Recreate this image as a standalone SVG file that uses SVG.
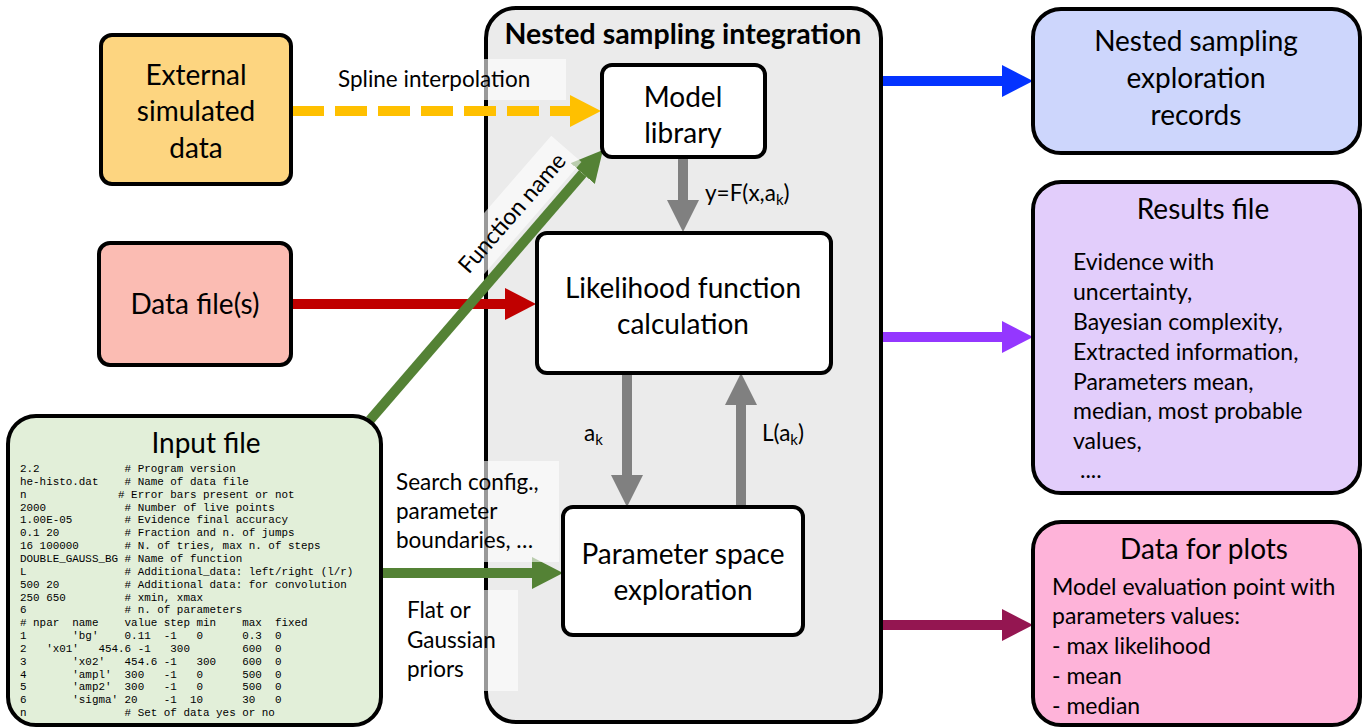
<svg xmlns="http://www.w3.org/2000/svg" width="1369" height="727" viewBox="0 0 1369 727">
<style>
.box{stroke:#000;stroke-width:4}
.t{font-family:Lato,"Liberation Sans",sans-serif;fill:#000}
.big{font-size:28px;text-anchor:middle}
.lbl{font-size:22.5px}
.body{font-size:23px}
.mono{font-family:"Liberation Mono","DejaVu Sans Mono",monospace;font-size:10.9px;fill:#000;white-space:pre}
.lblbg{fill:#fff;fill-opacity:0.6}
.sh{fill:none;stroke-width:10}
</style>
<defs>
<marker id="hY" markerUnits="userSpaceOnUse" markerWidth="32" markerHeight="32" viewBox="0 0 32 32" refX="0" refY="16" orient="auto"><path d="M0,0 L31,16 L0,32 z" fill="#ffc000"/></marker>
<marker id="hR" markerUnits="userSpaceOnUse" markerWidth="32" markerHeight="32" viewBox="0 0 32 32" refX="0" refY="16" orient="auto"><path d="M0,0 L31,16 L0,32 z" fill="#c00000"/></marker>
<marker id="hG" markerUnits="userSpaceOnUse" markerWidth="32" markerHeight="32" viewBox="0 0 32 32" refX="0" refY="16" orient="auto"><path d="M0,0 L31,16 L0,32 z" fill="#548235"/></marker>
<marker id="hK" markerUnits="userSpaceOnUse" markerWidth="32" markerHeight="32" viewBox="0 0 32 32" refX="0" refY="16" orient="auto"><path d="M0,0 L32,16 L0,32 z" fill="#808080"/></marker>
<marker id="hB" markerUnits="userSpaceOnUse" markerWidth="32" markerHeight="32" viewBox="0 0 32 32" refX="0" refY="16" orient="auto"><path d="M0,0 L31,16 L0,32 z" fill="#0433ff"/></marker>
<marker id="hP" markerUnits="userSpaceOnUse" markerWidth="32" markerHeight="32" viewBox="0 0 32 32" refX="0" refY="16" orient="auto"><path d="M0,0 L31,16 L0,32 z" fill="#9437ff"/></marker>
<marker id="hM" markerUnits="userSpaceOnUse" markerWidth="32" markerHeight="32" viewBox="0 0 32 32" refX="0" refY="16" orient="auto"><path d="M0,0 L31,16 L0,32 z" fill="#941651"/></marker>
</defs>
<rect width="1369" height="727" fill="#fff"/>

<g id="nested-sampling-integration">
<rect class="box" x="486" y="8" width="395" height="714" rx="30" fill="#ebebeb"/>
<text class="t" x="683" y="44" font-size="28.5" font-weight="bold" text-anchor="middle">Nested sampling integration</text>
</g>

<g id="connectors">
<line class="sh" x1="292" y1="111" x2="570" y2="111" stroke="#ffc000" stroke-dasharray="32 11" marker-end="url(#hY)"/>
<line class="sh" x1="291" y1="304" x2="505" y2="304" stroke="#c00000" marker-end="url(#hR)"/>
<line class="sh" x1="370" y1="420" x2="582.7" y2="173.5" stroke="#548235" marker-end="url(#hG)"/>
<line class="sh" x1="381" y1="573" x2="532" y2="573" stroke="#548235" marker-end="url(#hG)"/>
<line class="sh" x1="683" y1="157" x2="683" y2="200" stroke="#808080" marker-end="url(#hK)"/>
<line class="sh" x1="627" y1="373" x2="627" y2="475" stroke="#808080" marker-end="url(#hK)"/>
<line class="sh" x1="741" y1="507" x2="741" y2="405" stroke="#808080" marker-end="url(#hK)"/>
<line class="sh" x1="883" y1="81" x2="1002" y2="81" stroke="#0433ff" marker-end="url(#hB)"/>
<line class="sh" x1="883" y1="337" x2="1002" y2="337" stroke="#9437ff" marker-end="url(#hP)"/>
<line class="sh" x1="883" y1="625" x2="1002" y2="625" stroke="#941651" marker-end="url(#hM)"/>
</g>

<g id="connector-labels">
<rect class="lblbg" x="326" y="59" width="240" height="41"/>
<text class="t lbl" x="338" y="87">Spline interpolation</text>
<g transform="translate(512,213) rotate(-49)">
<rect class="lblbg" x="-84" y="-21" width="168" height="40"/>
<text class="t" x="0" y="8" font-size="23" text-anchor="middle">Function name</text>
</g>
<text class="t lbl" x="705" y="201">y=F(x,a<tspan font-size="15" dy="4">k</tspan><tspan dy="-4">)</tspan></text>
<text class="t lbl" x="584" y="441">a<tspan font-size="15" dy="4">k</tspan></text>
<text class="t lbl" x="762" y="441">L(a<tspan font-size="15" dy="4">k</tspan><tspan dy="-4">)</tspan></text>
<rect class="lblbg" x="390" y="461" width="169" height="101"/>
<text class="t lbl" x="396" y="490">Search config.,</text>
<text class="t lbl" x="396" y="519">parameter</text>
<text class="t lbl" x="396" y="548">boundaries, …</text>
<rect class="lblbg" x="400" y="590" width="118" height="101"/>
<text class="t lbl" x="407" y="618">Flat or</text>
<text class="t lbl" x="407" y="648">Gaussian</text>
<text class="t lbl" x="407" y="677">priors</text>
</g>

<g id="external-simulated-data">
<rect class="box" x="101" y="35" width="190" height="149" rx="11" fill="#fdd580"/>
<text class="t big" x="196" y="85">External</text>
<text class="t big" x="196" y="121">simulated</text>
<text class="t big" x="196" y="158">data</text>
</g>

<g id="data-files">
<rect class="box" x="99" y="243" width="192" height="122" rx="11" fill="#fbbcb3"/>
<text class="t big" x="195" y="314">Data file(s)</text>
</g>

<g id="input-file">
<rect class="box" x="8" y="416" width="373" height="309" rx="28" fill="#e2efd9"/>
<text class="t big" x="206" y="453">Input file</text>
<text class="mono" x="20" y="472">2.2             # Program version</text>
<text class="mono" x="20" y="484.85">he-histo.dat    # Name of data file</text>
<text class="mono" x="20" y="497.7">n              # Error bars present or not</text>
<text class="mono" x="20" y="510.55">2000            # Number of live points</text>
<text class="mono" x="20" y="523.4">1.00E-05        # Evidence final accuracy</text>
<text class="mono" x="20" y="536.25">0.1 20          # Fraction and n. of jumps</text>
<text class="mono" x="20" y="549.1">16 100000       # N. of tries, max n. of steps</text>
<text class="mono" x="20" y="561.95">DOUBLE_GAUSS_BG # Name of function</text>
<text class="mono" x="20" y="574.8">L               # Additional_data: left/right (l/r)</text>
<text class="mono" x="20" y="587.65">500 20          # Additional data: for convolution</text>
<text class="mono" x="20" y="600.5">250 650         # xmin, xmax</text>
<text class="mono" x="20" y="613.35">6               # n. of parameters</text>
<text class="mono" x="20" y="626.2"># npar  name    value step min    max  fixed</text>
<text class="mono" x="20" y="639.05">1       'bg'    0.11  -1   0      0.3  0</text>
<text class="mono" x="20" y="651.9">2   'x01'   454.6 -1   300        600  0</text>
<text class="mono" x="20" y="664.75">3       'x02'   454.6 -1   300    600  0</text>
<text class="mono" x="20" y="677.6">4       'ampl'  300   -1   0      500  0</text>
<text class="mono" x="20" y="690.45">5       'amp2'  300   -1   0      500  0</text>
<text class="mono" x="20" y="703.3">6       'sigma' 20    -1  10      30   0</text>
<text class="mono" x="20" y="716.15">n               # Set of data yes or no</text>
</g>

<g id="model-library">
<rect class="box" x="602" y="65" width="163" height="92" rx="10" fill="#fff"/>
<text class="t big" x="683" y="107">Model</text>
<text class="t big" x="683" y="143">library</text>
</g>

<g id="likelihood-function-calculation">
<rect class="box" x="537" y="233" width="294" height="140" rx="10" fill="#fff"/>
<text class="t big" x="683" y="298">Likelihood function</text>
<text class="t big" x="683" y="334">calculation</text>
</g>

<g id="parameter-space-exploration">
<rect class="box" x="563" y="507" width="240" height="128" rx="10" fill="#fff"/>
<text class="t big" x="683" y="564">Parameter space</text>
<text class="t big" x="683" y="600">exploration</text>
</g>

<g id="nested-sampling-exploration-records">
<rect class="box" x="1033" y="9" width="327" height="144" rx="28" fill="#cdd6fc"/>
<text class="t big" x="1196" y="51">Nested sampling</text>
<text class="t big" x="1196" y="88">exploration</text>
<text class="t big" x="1196" y="125">records</text>
</g>

<g id="results-file">
<rect class="box" x="1033" y="182" width="327" height="311" rx="28" fill="#e2cdfb"/>
<text class="t big" x="1203" y="219">Results file</text>
<text class="t body" x="1073" y="270">Evidence with</text>
<text class="t body" x="1073" y="300">uncertainty,</text>
<text class="t body" x="1073" y="330">Bayesian complexity,</text>
<text class="t body" x="1073" y="360">Extracted information,</text>
<text class="t body" x="1073" y="390">Parameters mean,</text>
<text class="t body" x="1073" y="419">median, most probable</text>
<text class="t body" x="1073" y="449">values,</text>
<text class="t body" x="1080" y="478">....</text>
</g>

<g id="data-for-plots">
<rect class="box" x="1033" y="522" width="327" height="203" rx="28" fill="#feb3d9"/>
<text class="t big" x="1204" y="559">Data for plots</text>
<text class="t body" x="1052" y="595">Model evaluation point with</text>
<text class="t body" x="1052" y="624">parameters values:</text>
<text class="t body" x="1052" y="654">- max likelihood</text>
<text class="t body" x="1052" y="684">- mean</text>
<text class="t body" x="1052" y="714">- median</text>
</g>
</svg>
